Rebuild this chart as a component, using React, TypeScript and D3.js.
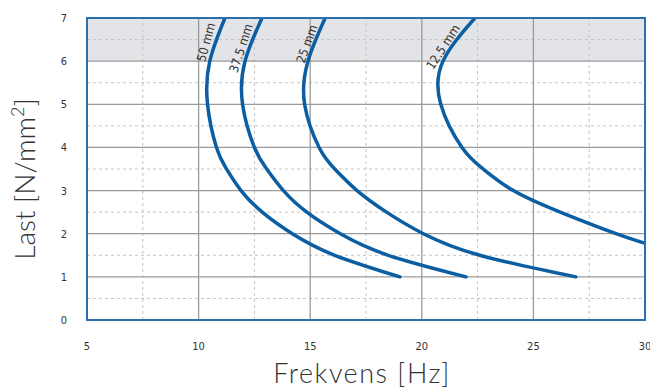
import React from "react";
import * as d3 from "d3";

// load levels [N/mm2] for each curve, top to bottom
const loads = [7, 6, 5, 4, 3.5, 3, 2.5, 2, 1.5, 1];
const loads125 = [7, 6, 5, 4, 3.5, 3, 2.5, 2, 1.78, 1.5];

const curves = [
  { name: "50 mm", load: loads, freq: [11.18, 10.5, 10.4, 10.8, 11.25, 11.9, 12.85, 14.2, 16.1, 19.02] },
  { name: "37.5 mm", load: loads, freq: [12.84, 12.08, 11.97, 12.5, 13.05, 13.8, 14.85, 16.35, 18.5, 21.98] },
  { name: "25 mm", load: loads, freq: [15.67, 14.9, 14.75, 15.4, 16.1, 17.1, 18.42, 20.07, 22.6, 26.9] },
  { name: "12.5 mm", load: loads125, freq: [22.38, 20.95, 20.85, 21.8, 22.75, 24.1, 26.2, 28.7, 30.0, 31.8] },
];

// curve label placement [freq, load, angle]
const labelPos: [number, number, number][] = [
  [10.33, 6.44, -75],
  [11.9, 6.3, -72],
  [14.85, 6.4, -70],
  [20.95, 6.33, -57],
];

const xTicks = [5, 10, 15, 20, 25, 30];
const yTicks = [0, 1, 2, 3, 4, 5, 6, 7];
const xMinor = [7.5, 12.5, 17.5, 22.5, 27.5];
const yMinor = [0.5, 1.5, 2.5, 3.5, 4.5, 5.5, 6.5];

const W = 650;
const H = 389;
const m = { left: 87, right: 5, top: 18, bottom: 69 };
const tickFont = "'DejaVu Sans Condensed', 'DejaVu Sans', sans-serif";

export default function App() {
  const x = d3.scaleLinear().domain([5, 30]).range([m.left, W - m.right]);
  const y = d3.scaleLinear().domain([0, 7]).range([H - m.bottom, m.top]);

  const line = d3
    .line<[number, number]>()
    .x((d) => x(d[0]))
    .y((d) => y(d[1]))
    .curve(d3.curveNatural);

  const x0 = x(5), x1 = x(30), y0 = y(0), y1 = y(7);

  return (
    <svg width={W} height={H} style={{ position: "absolute", left: 0, top: 0 }}>
      <defs>
        <clipPath id="plot">
          <rect x={x0} y={y1} width={x1 - x0} height={y0 - y1} />
        </clipPath>
      </defs>
      <rect x={x0} y={y1} width={x1 - x0} height={y(6) - y1} fill="#e3e4e8" />
      {xMinor.map((v) => (
        <line key={"xm" + v} x1={x(v)} x2={x(v)} y1={y0} y2={y1}
          stroke="#c4c4c4" strokeWidth={1} strokeDasharray="3,3" />
      ))}
      {yMinor.map((v) => (
        <line key={"ym" + v} x1={x0} x2={x1} y1={y(v)} y2={y(v)}
          stroke="#c4c4c4" strokeWidth={1} strokeDasharray="3,3" />
      ))}
      {xTicks.map((v) => (
        <line key={"xg" + v} x1={x(v)} x2={x(v)} y1={y0} y2={y1}
          stroke="#9a9a9a" strokeWidth={1.3} />
      ))}
      {yTicks.map((v) => (
        <line key={"yg" + v} x1={x0} x2={x1} y1={y(v)} y2={y(v)}
          stroke="#9a9a9a" strokeWidth={1.3} />
      ))}
      <g clipPath="url(#plot)">
        {curves.map((c) => (
          <path key={c.name}
            d={line(c.freq.map((f, i) => [f, c.load[i]] as [number, number])) || ""}
            fill="none" stroke="#0b5ea2" strokeWidth={3.5} strokeLinecap="round" />
        ))}
      </g>
      <rect x={x0} y={y1} width={x1 - x0} height={y0 - y1} fill="none"
        stroke="#2a70b0" strokeWidth={2} />
      {curves.map((c, i) => {
        const [f, l, a] = labelPos[i];
        return (
          <text key={"lab" + c.name} transform={`translate(${x(f)},${y(l)}) rotate(${a})`}
            textAnchor="middle" dy="0.35em" fontFamily={tickFont}
            fontSize={12.5} fill="#333">{c.name}</text>
        );
      })}
      {yTicks.map((v) => (
        <text key={"yt" + v} x={64} y={y(v) + 4} textAnchor="middle"
          fontFamily={tickFont} fontSize={11} fill="#333">{v}</text>
      ))}
      {xTicks.map((v) => (
        <text key={"xt" + v} x={x(v)} y={y0 + 30} textAnchor="middle"
          fontFamily={tickFont} fontSize={11} fill="#333">{v}</text>
      ))}
      <text x={362} y={383} textAnchor="middle" fontFamily="Lato, sans-serif"
        fontWeight={300} fontSize={27} letterSpacing={1.5} fill="#333">Frekvens [Hz]</text>
      <text transform={`translate(35,179) rotate(-90)`} textAnchor="middle"
        fontFamily="Lato, sans-serif" fontWeight={300} fontSize={28} fill="#333">
        Last [N/mm<tspan fontSize={18} dy={-11}>2</tspan><tspan dy={11}>]</tspan>
      </text>
    </svg>
  );
}
